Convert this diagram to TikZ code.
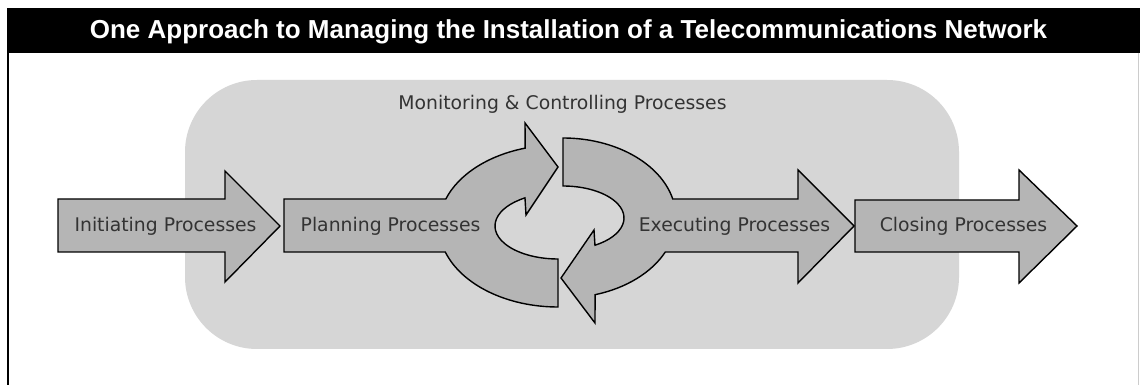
\documentclass[tikz,border=0pt]{standalone}
\usepackage{fontspec}
\setmainfont{DejaVu Sans}
\newfontfamily\titlefont{Liberation Sans}
\usetikzlibrary{calc}
\definecolor{panelgray}{gray}{0.84}
\definecolor{arrowgray}{gray}{0.71}
\definecolor{labelgray}{gray}{0.2}
\begin{document}
\begin{tikzpicture}[x=1pt,y=1pt,
  procarrow/.style={draw=black, line width=1.4pt, fill=arrowgray, line join=miter},
  proclabel/.style={font=\fontsize{18.8}{22}\selectfont, text=labelgray, inner sep=0pt, anchor=base},
]
\useasboundingbox (0,0) rectangle (1140,385);
\fill[white] (0,0) rectangle (1140,385);

% page frame with title bar
\fill[black] (7,332) rectangle (1140,377);
\draw[black, line width=2pt] (8,332) -- (8,0);
\draw[gray!40, line width=0.8pt] (1138,332) -- (1138,0);
\node[font=\titlefont\bfseries\fontsize{26}{30}\selectfont, text=white, inner sep=0pt, anchor=base]
  (title) at (568.5,346) {One Approach to Managing the Installation of a Telecommunications Network};

% monitoring & controlling panel
\fill[panelgray, rounded corners=72pt] (185,36) rectangle (959,305);

% centres of the two half rings
\coordinate (cl) at (558,159);
\coordinate (cr) at (563,167);

% initiating arrow
\draw[procarrow] (58,186) -- (225,186) -- (225,214) -- (280,159) -- (225,103) -- (225,133) -- (58,133) -- cycle;

% planning arrow bending into the upper half ring
\draw[procarrow] (284,186) -- ($(cl)+(160.53:119pt and 81pt)$)
  arc[start angle=160.53, end angle=106, x radius=119pt, y radius=81pt]
  -- (525,262) -- (558,218) -- (526,170)
  -- ($(cl)+(121.6:63pt and 33pt)$)
  arc[start angle=121.6, end angle=270, x radius=63pt, y radius=33pt]
  -- ($(cl)+(270:119pt and 81pt)$)
  arc[start angle=270, end angle=198.72, x radius=119pt, y radius=81pt]
  -- (284,133) -- cycle;

% executing arrow bending into the lower half ring
\draw[procarrow] ($(cr)+(90:113pt and 80pt)$)
  arc[start angle=90, end angle=13.74, x radius=113pt, y radius=80pt]
  -- (798,186) -- (798,215) -- (854,159) -- (798,102) -- (798,133)
  -- ($(cr)+(-25.15:113pt and 80pt)$)
  arc[start angle=-25.15, end angle=-73.5, x radius=113pt, y radius=80pt]
  -- (595,62) -- (561,107) -- (594,155)
  -- ($(cr)+(-58.4:61pt and 32pt)$)
  arc[start angle=-58.4, end angle=90, x radius=61pt, y radius=32pt]
  -- cycle;

% closing arrow
\draw[procarrow] (855,185) -- (1019,185) -- (1019,215) -- (1077,159) -- (1019,102) -- (1019,133) -- (855,133) -- cycle;

% labels
\node[proclabel] (init) at (165.5,153) {Initiating Processes};
\node[proclabel] (plan) at (390.5,153) {Planning Processes};
\node[proclabel] (exec) at (734.5,153) {Executing Processes};
\node[proclabel] (close) at (963.5,153) {Closing Processes};
\node[proclabel] (monitor) at (562.5,275) {Monitoring \& Controlling Processes};
\end{tikzpicture}
\end{document}
